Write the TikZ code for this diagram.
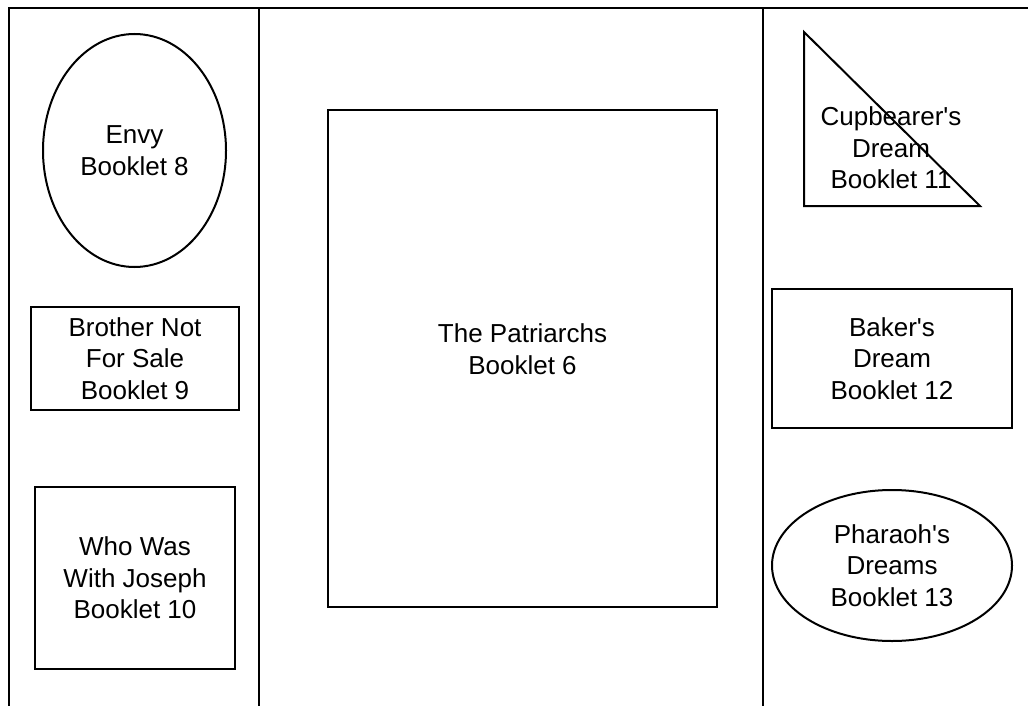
\documentclass[tikz,border=0pt]{standalone}
\usepackage{fontspec}
\setmainfont{Liberation Sans}[Ligatures=TeXOff]
\usetikzlibrary{shapes.geometric}

\begin{document}
\begin{tikzpicture}[x=1pt,y=-1pt,line width=2pt,
  every node/.style={font=\fontsize{26}{31.5}\selectfont,align=center},
  booklet/.style={draw,inner sep=0pt},
  oval/.style={draw,ellipse,inner sep=0pt}]
  \useasboundingbox (0,0) rectangle (1028,706);
  % frame and column rules
  \draw (1028,8) -- (9,8) -- (9,706);
  \draw (258.5,8) -- (258.5,706);
  \draw (763,8) -- (763,706);
  % left column
  \node[oval,minimum width=183,minimum height=233] (envy) at (134.5,150.5) {Envy\\Booklet 8};
  \node[booklet,minimum width=208,minimum height=103] (brother) at (135,358.5) {Brother Not\\For Sale\\Booklet 9};
  \node[booklet,minimum width=200,minimum height=182] (who) at (135,578) {Who Was\\With Joseph\\Booklet 10};
  % middle
  \node[booklet,minimum width=389,minimum height=497] (patr) at (522.5,358.5) {};
  \node (patrtext) at (522.5,349) {The Patriarchs\\Booklet 6};
  % right column
  \draw (804,32) -- (804,206) -- (980,206) -- cycle;
  \node (cup) at (891,148) {Cupbearer's\\Dream\\Booklet 11};
  \node[booklet,minimum width=240,minimum height=139] (baker) at (892,358.5) {Baker's\\Dream\\Booklet 12};
  \node[oval,minimum width=240,minimum height=151] (pharaoh) at (892,565.5) {Pharaoh's\\Dreams\\Booklet 13};
\end{tikzpicture}
\end{document}
